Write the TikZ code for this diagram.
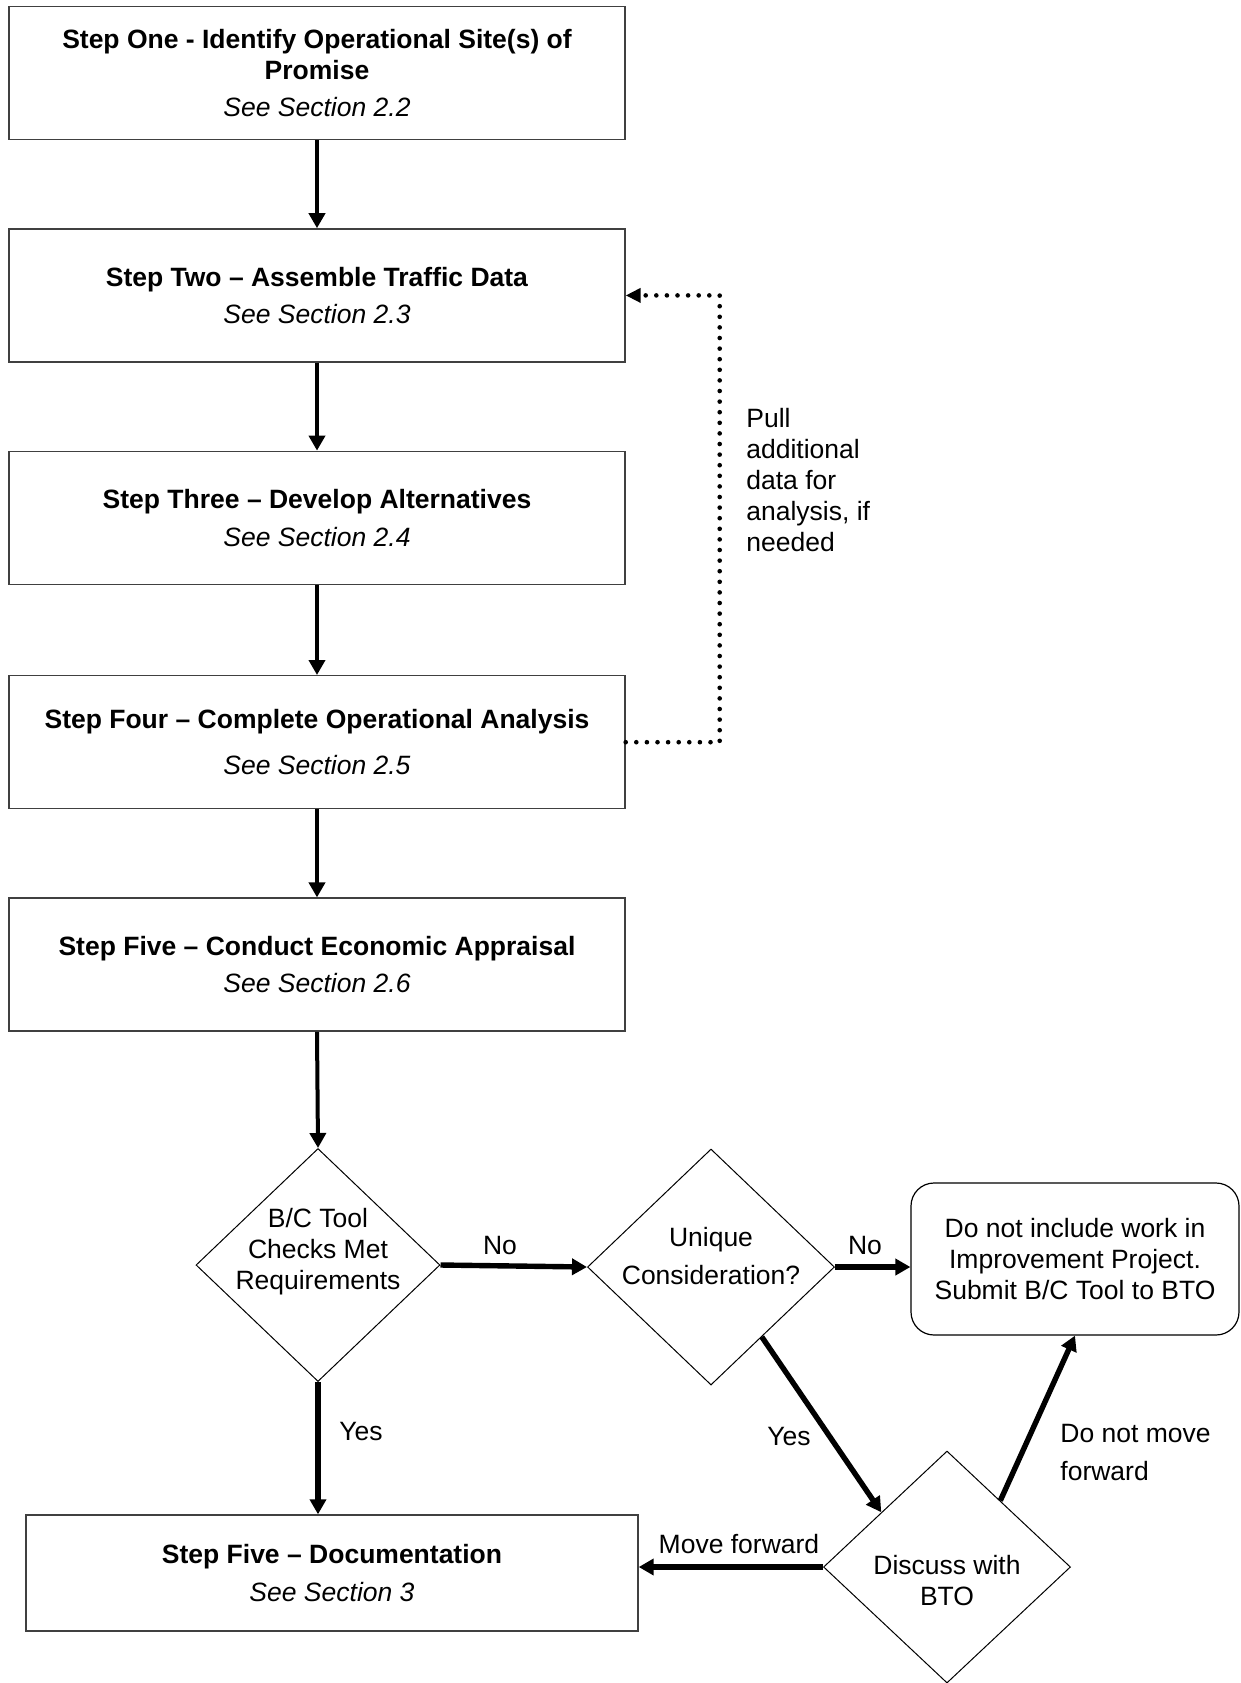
\documentclass[tikz,border=0pt]{standalone}
\usepackage{fontspec}
\setmainfont{Liberation Sans}
\usepackage{tikz}
\usetikzlibrary{calc, arrows.meta, shapes.geometric, positioning}
\tikzset{
	node distance = 44pt,
	line width = .75pt,
	>={Triangle[length=7.5pt, width=8pt]},
	font = \fontsize{13.25}{15.5}\selectfont,
	stepbox/.style={
		draw=black!75,
		rectangle,
		line width=.7pt,
		minimum width=308pt,
		minimum height=66.5pt,
		inner sep=0pt,
		align=center
	},
	decision/.style={
		draw,
		diamond,
		line width=.5pt,
		inner sep=0pt
	},
	endbox/.style={
		draw,
		rounded corners=11.5pt,
		line width=.6pt,
		minimum width=164pt,
		minimum height=76pt,
		align=center
	},
	lbl/.style={
		inner sep=0pt
	},
	edge/.style={
		->,
		line width=2pt
	},
	bigedge/.style={
		->,
		line width=2.7pt
	},
	loopback/.style={
		->,
		>={Triangle[length=7.5pt, width=7pt]},
		line width=2.3pt,
		line cap=round,
		dash pattern=on 0pt off 5.3pt
	}
}

\begin{document}
\begin{tikzpicture}[x=0.5pt, y=-0.5pt]
\useasboundingbox (0,0) rectangle (1241,1683);
% ---
% steps one to five
% ---
\node[stepbox] at (317,73) (b1) {\textbf{Step One - Identify Operational Site(s) of}\\\textbf{Promise}\\[3.3pt]\textit{See Section 2.2}};
\node[stepbox, below=of b1] (b2) {\textbf{Step Two -- Assemble Traffic Data}\\[3.3pt]\textit{See Section 2.3}};
\node[stepbox, below=of b2] (b3) {\textbf{Step Three -- Develop Alternatives}\\[3.3pt]\textit{See Section 2.4}};
\node[stepbox, below=45pt of b3] (b4) {\textbf{Step Four -- Complete Operational Analysis}\\[7.6pt]\textit{See Section 2.5}};
\node[stepbox, below=of b4] (b5) {\textbf{Step Five -- Conduct Economic Appraisal}\\[3.3pt]\textit{See Section 2.6}};

\draw[edge] (b1) to (b2);
\draw[edge] (b2) to (b3);
\draw[edge] (b3) to (b4);
\draw[edge] (b4) to (b5);

% loop back for more data
\draw[loopback] (b4.east) -- ++(94,0) |- (b2.east);
\node[lbl, anchor=west, align=left] at (746,480) (pull) {Pull\\additional\\data for\\analysis, if\\needed};

% ---
% decisions
% ---
\node[decision, minimum width=122pt, minimum height=116.5pt] at (318,1265) (d1) {};
\node[lbl, align=center] at (318,1252) (d1txt) {B/C Tool\\Checks Met\\Requirements};
\node[decision, minimum width=123.5pt, minimum height=118pt] at (711,1267) (d2) {};
\node[lbl, align=center] at (711,1256) (d2txt) {Unique\\[3.8pt]Consideration?};
\node[endbox] at (1075,1259) (rb) {Do not include work in\\Improvement Project.\\Submit B/C Tool to BTO};
\node[decision, minimum width=123.5pt, minimum height=116pt] at (947,1567) (d3) {};
\node[lbl, align=center] at (947,1581) (d3txt) {Discuss with\\BTO};
\node[stepbox, minimum width=306pt, minimum height=58pt] at (332,1573) (b6) {\textbf{Step Five -- Documentation}\\[3.3pt]\textit{See Section 3}};

\draw[edge] (b5.south) to (d1.north);
\draw[bigedge] (d1.east) to (d2.west);
\draw[bigedge] (d2.east) to (d2.east -| rb.west);
\draw[bigedge] (d1.south) to (d1.south |- b6.north);
\draw[bigedge] ($(d2.south)!0.41!(d2.east)$) to ($(d3.west)!0.47!(d3.north)$);
\draw[bigedge] ($(d3.north)!0.43!(d3.east)$) to (rb.south);
\draw[bigedge] (d3.west) to (d3.west -| b6.east);

\node[lbl] at (500,1245) (no1) {No};
\node[lbl] at (865,1245) (no2) {No};
\node[lbl, anchor=west] at (339,1431) (yes1) {Yes};
\node[lbl] at (789,1436) (yes2) {Yes};
\node[lbl] at (739,1544) (mf) {Move forward};
\node[lbl, anchor=west, align=left] at (1060,1452.5) (dnm) {Do not move\\[3.8pt]forward};
\end{tikzpicture}
\end{document}
